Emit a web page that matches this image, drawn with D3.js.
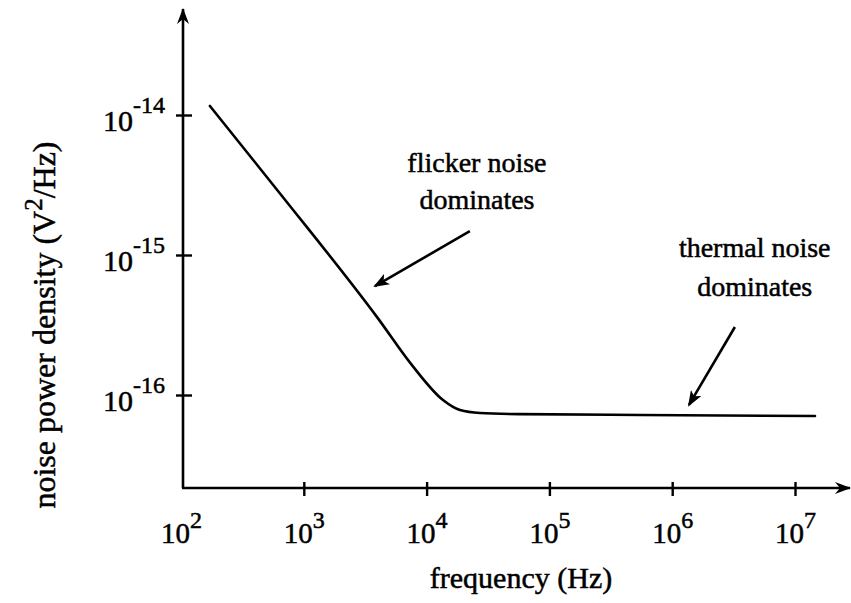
<!DOCTYPE html>
<html>
<head>
<meta charset="utf-8">
<script src="https://cdn.jsdelivr.net/npm/d3@7/dist/d3.min.js"></script>
<style>
  html, body { margin: 0; padding: 0; background: #fff; }
  svg { display: block; }
  text { font-family: "Liberation Serif", "Times New Roman", serif; fill: #000; stroke: #000; stroke-width: 0.5px; }
</style>
</head>
<body>
<svg id="chart" width="851" height="603"></svg>
<script>
// ---- data ----
const frequency = [172, 640, 3950, 7740, 13600, 18700, 27200, 57700, 547000, 1.455e7];
const density   = [1.16e-14, 2.75e-15, 3.6e-16, 1.6e-16, 9.2e-17, 7.8e-17, 7.43e-17, 7.3e-17, 7.2e-17, 7.08e-17];
const xTickValues = [1e2, 1e3, 1e4, 1e5, 1e6, 1e7];
const xTickExps   = ["2", "3", "4", "5", "6", "7"];
const yTickValues = [1e-14, 1e-15, 1e-16];
const yTickExps   = ["-14", "-15", "-16"];
const annotationLines = [["flicker noise", "dominates"], ["thermal noise", "dominates"]];
const annotationTextX = [25700, 4.7e6];
const annotationTextY = [[3.92e-15, 2.13e-15], [9.7e-16, 5.1e-16]];
const arrowFrom = [[22500, 1.48e-15], [3.24e6, 3.06e-16]];
const arrowTo   = [[3800, 6.0e-16], [1.37e6, 8.49e-17]];

// ---- layout ----
const svg = d3.select("#chart");
const W = 851, H = 603;
svg.append("rect").attr("width", W).attr("height", H).attr("fill", "#fff");

const x = d3.scaleLog().domain([1e2, 1e7]).range([181, 795]);
const y = d3.scaleLog().domain([1e-16, 1e-14]).range([395, 115]);
const originX = 183, originY = 488;

const defs = svg.append("defs");
defs.append("marker").attr("id", "arrow")
  .attr("viewBox", "0 0 16 12").attr("refX", 14).attr("refY", 6)
  .attr("markerWidth", 16).attr("markerHeight", 12).attr("markerUnits", "userSpaceOnUse")
  .attr("orient", "auto")
  .append("path").attr("d", "M0,0 L16,6 L0,12 L4,6 Z").attr("fill", "#000");
defs.append("marker").attr("id", "axisarrow")
  .attr("viewBox", "0 0 16 12").attr("refX", 15).attr("refY", 6)
  .attr("markerWidth", 16).attr("markerHeight", 12).attr("markerUnits", "userSpaceOnUse")
  .attr("orient", "auto")
  .append("path").attr("d", "M0,0 L16,6 L0,12 L5,6 Z").attr("fill", "#000");

// axis lines
svg.append("line").attr("x1", originX).attr("y1", originY).attr("x2", originX).attr("y2", 9)
  .attr("stroke", "#000").attr("stroke-width", 2.6).attr("marker-end", "url(#axisarrow)");
svg.append("line").attr("x1", originX - 1).attr("y1", originY).attr("x2", 850).attr("y2", originY)
  .attr("stroke", "#000").attr("stroke-width", 2.6).attr("marker-end", "url(#axisarrow)");

// x axis ticks
const xAxis = d3.axisBottom(x).tickValues(xTickValues).tickSize(0).tickFormat(() => "");
const gx = svg.append("g").attr("transform", `translate(0,${originY})`).call(xAxis);
gx.select(".domain").remove();
gx.selectAll(".tick line").attr("y1", -6).attr("y2", 8).attr("stroke", "#000").attr("stroke-width", 2.4);
gx.selectAll(".tick").filter((d, i) => i === 0).select("line").remove();
gx.selectAll(".tick text").remove();
gx.selectAll(".tick").append("text")
  .attr("y", 55).attr("text-anchor", "middle").attr("font-size", 29)
  .each(function(d, i) {
    const t = d3.select(this);
    t.append("tspan").text("10");
    t.append("tspan").attr("dy", -15).attr("font-size", 24).text(xTickExps[i]);
  });

// y axis ticks
const yAxis = d3.axisLeft(y).tickValues(yTickValues).tickSize(0).tickFormat(() => "");
const gy = svg.append("g").attr("transform", `translate(${originX},0)`).call(yAxis);
gy.select(".domain").remove();
gy.selectAll(".tick line").attr("x1", -7).attr("x2", 9).attr("stroke", "#000").attr("stroke-width", 2.4);
gy.selectAll(".tick text").remove();
gy.selectAll(".tick").append("text")
  .attr("x", -18).attr("y", 15).attr("text-anchor", "end").attr("font-size", 30)
  .each(function(d, i) {
    const t = d3.select(this);
    t.append("tspan").text("10");
    t.append("tspan").attr("dy", -18).attr("font-size", 24).text(yTickExps[i]);
  });

// curve
const pts = frequency.map((f, i) => [f, density[i]]);
svg.append("path").datum(pts)
  .attr("fill", "none").attr("stroke", "#000").attr("stroke-width", 2.6)
  .attr("stroke-linejoin", "round").attr("stroke-linecap", "round")
  .attr("d", d3.line().x(d => x(d[0])).y(d => y(d[1])).curve(d3.curveMonotoneX));

// annotations
annotationLines.forEach((lines, k) => {
  lines.forEach((s, j) => {
    svg.append("text").attr("x", x(annotationTextX[k])).attr("y", y(annotationTextY[k][j]))
      .attr("text-anchor", "middle").attr("font-size", 28).text(s);
  });
  svg.append("line")
    .attr("x1", x(arrowFrom[k][0])).attr("y1", y(arrowFrom[k][1]))
    .attr("x2", x(arrowTo[k][0])).attr("y2", y(arrowTo[k][1]))
    .attr("stroke", "#000").attr("stroke-width", 2.6).attr("marker-end", "url(#arrow)");
});

// axis titles
svg.append("text").attr("x", 521).attr("y", 588).attr("text-anchor", "middle")
  .attr("font-size", 30).text("frequency (Hz)");
const yt = svg.append("text").attr("transform", "translate(55,325) rotate(-90)")
  .attr("text-anchor", "middle").attr("font-size", 32);
yt.append("tspan").text("noise power density (V");
yt.append("tspan").attr("dy", -13).attr("font-size", 25).text("2");
yt.append("tspan").attr("dy", 13).text("/Hz)");
</script>
</body>
</html>
